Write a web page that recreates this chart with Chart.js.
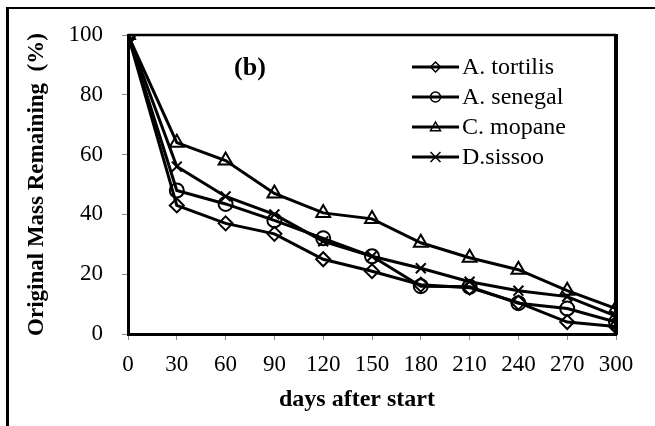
<!DOCTYPE html>
<html>
<head>
<meta charset="utf-8">
<script src="https://cdn.jsdelivr.net/npm/chart.js@4.4.0/dist/chart.umd.min.js"></script>
<style>
  html, body { margin: 0; padding: 0; background: #fff; }
  #wrap { width: 655px; height: 426px; position: relative; }
</style>
</head>
<body>
<div id="wrap"><canvas id="decay"></canvas></div>
<script>
// days after start (x values)
const days = [0, 30, 60, 90, 120, 150, 180, 210, 240, 270, 300];

// % original mass remaining
const tortilis = [100, 43, 37, 33.5, 25, 21, 16.5, 15.5, 10.5, 4, 2.5];
const senegal  = [100, 48, 43.5, 38, 32, 26, 16, 15.8, 10.3, 8.5, 4];
const mopane   = [100, 64, 58, 47, 40.5, 38.5, 30.5, 25.5, 21.5, 14.5, 8.5];
const sissoo   = [100, 56, 46, 40, 31, 26, 22, 17.5, 14.5, 12.5, 6];

const seriesNames = ["A. tortilis", "A. senegal", "C. mopane", "D.sissoo"];
const seriesValues = [tortilis, senegal, mopane, sissoo];
const markers = ["rectRot", "circle", "triangle", "crossRot"];
const markerSizes = [7, 7, 8, 7];

const serif = "'Liberation Serif', 'Times New Roman', serif";

function toPoints(vals) {
  return vals.map((v, i) => ({ x: days[i], y: v }));
}

// small hand-drawn legend symbol (line + hollow marker)
function legendMarker(ctx, style, x, y, r) {
  ctx.beginPath();
  if (style === "rectRot") {
    ctx.moveTo(x, y - r); ctx.lineTo(x + r, y); ctx.lineTo(x, y + r); ctx.lineTo(x - r, y); ctx.closePath();
  } else if (style === "circle") {
    ctx.arc(x, y, r, 0, Math.PI * 2);
  } else if (style === "triangle") {
    ctx.moveTo(x, y - r); ctx.lineTo(x + r, y + r * 0.75); ctx.lineTo(x - r, y + r * 0.75); ctx.closePath();
  } else {
    ctx.moveTo(x - r, y - r); ctx.lineTo(x + r, y + r);
    ctx.moveTo(x + r, y - r); ctx.lineTo(x - r, y + r);
  }
  ctx.stroke();
}

const decorations = {
  id: "decorations",
  beforeDraw(chart) {
    const { ctx, width, height } = chart;
    ctx.save();
    ctx.fillStyle = "#fff";
    ctx.fillRect(0, 0, width, height);
    ctx.strokeStyle = "#000";
    // outer picture frame (top and left only)
    ctx.lineWidth = 3;
    ctx.beginPath(); ctx.moveTo(7.5, 7); ctx.lineTo(7.5, height); ctx.stroke();
    ctx.lineWidth = 2;
    ctx.beginPath(); ctx.moveTo(6, 8); ctx.lineTo(width, 8); ctx.stroke();
    ctx.restore();
  },
  afterDraw(chart) {
    const { ctx, chartArea: a } = chart;
    ctx.save();
    ctx.strokeStyle = "#000";
    // top + right edge of plot box
    ctx.lineWidth = 2.5;
    ctx.beginPath(); ctx.moveTo(a.left, a.top); ctx.lineTo(a.right, a.top); ctx.stroke();
    ctx.lineWidth = 4;
    ctx.beginPath(); ctx.moveTo(a.right, a.top - 1); ctx.lineTo(a.right, a.bottom + 1); ctx.stroke();

    // panel label
    ctx.fillStyle = "#000";
    ctx.font = "bold 26px " + serif;
    ctx.textAlign = "center";
    ctx.textBaseline = "middle";
    ctx.fillText("(b)", 250, 68);

    // legend
    ctx.font = "24px " + serif;
    ctx.textAlign = "left";
    chart.data.datasets.forEach((ds, i) => {
      const y = 67 + i * 30;
      ctx.lineWidth = 3;
      ctx.beginPath(); ctx.moveTo(412, y); ctx.lineTo(459, y); ctx.stroke();
      ctx.lineWidth = 1.5;
      legendMarker(ctx, markers[i], 435.5, y, 5);
      ctx.fillText(ds.label, 462, y + 1);
    });
    ctx.restore();
  }
};

new Chart(document.getElementById("decay"), {
  type: "line",
  data: {
    datasets: seriesNames.map((name, i) => ({
      label: name,
      data: toPoints(seriesValues[i]),
      borderColor: "#000",
      borderWidth: 3,
      pointStyle: markers[i],
      pointRadius: markerSizes[i],
      pointBorderWidth: 2,
      pointBorderColor: "#000",
      pointBackgroundColor: "rgba(0,0,0,0)",
      tension: 0,
      fill: false
    }))
  },
  options: {
    responsive: true,
    maintainAspectRatio: false,
    animation: false,
    layout: { padding: { left: 8, top: 35, right: 39, bottom: 0 } },
    plugins: { legend: { display: false }, tooltip: { enabled: false } },
    scales: {
      x: {
        type: "linear",
        min: 0, max: 300,
        afterFit(scale) { scale.height = 92; },
        ticks: { stepSize: 30, padding: 11, color: "#000", font: { family: serif, size: 23 } },
        grid: { display: true, drawOnChartArea: false, drawTicks: true, tickLength: 6, color: "#888" },
        border: { color: "#000", width: 3 },
        title: {
          display: true,
          text: "days after start\u00a0\u00a0\u00a0\u00a0\u00a0",
          color: "#000",
          font: { family: serif, size: 24, weight: "bold" },
          padding: { top: 0, bottom: 12 }
        }
      },
      y: {
        min: 0, max: 100,
        afterFit(scale) { scale.width = 120; },
        ticks: { stepSize: 20, padding: 19, color: "#000", font: { family: serif, size: 23 } },
        grid: { display: true, drawOnChartArea: false, drawTicks: true, tickLength: 6, color: "#888" },
        border: { color: "#000", width: 3 },
        title: {
          display: true,
          text: "Original Mass Remaining  (%)",
          color: "#000",
          font: { family: serif, size: 23, weight: "bold" },
          padding: { top: 15, bottom: 0 }
        }
      }
    }
  },
  plugins: [decorations]
});
</script>
</body>
</html>
